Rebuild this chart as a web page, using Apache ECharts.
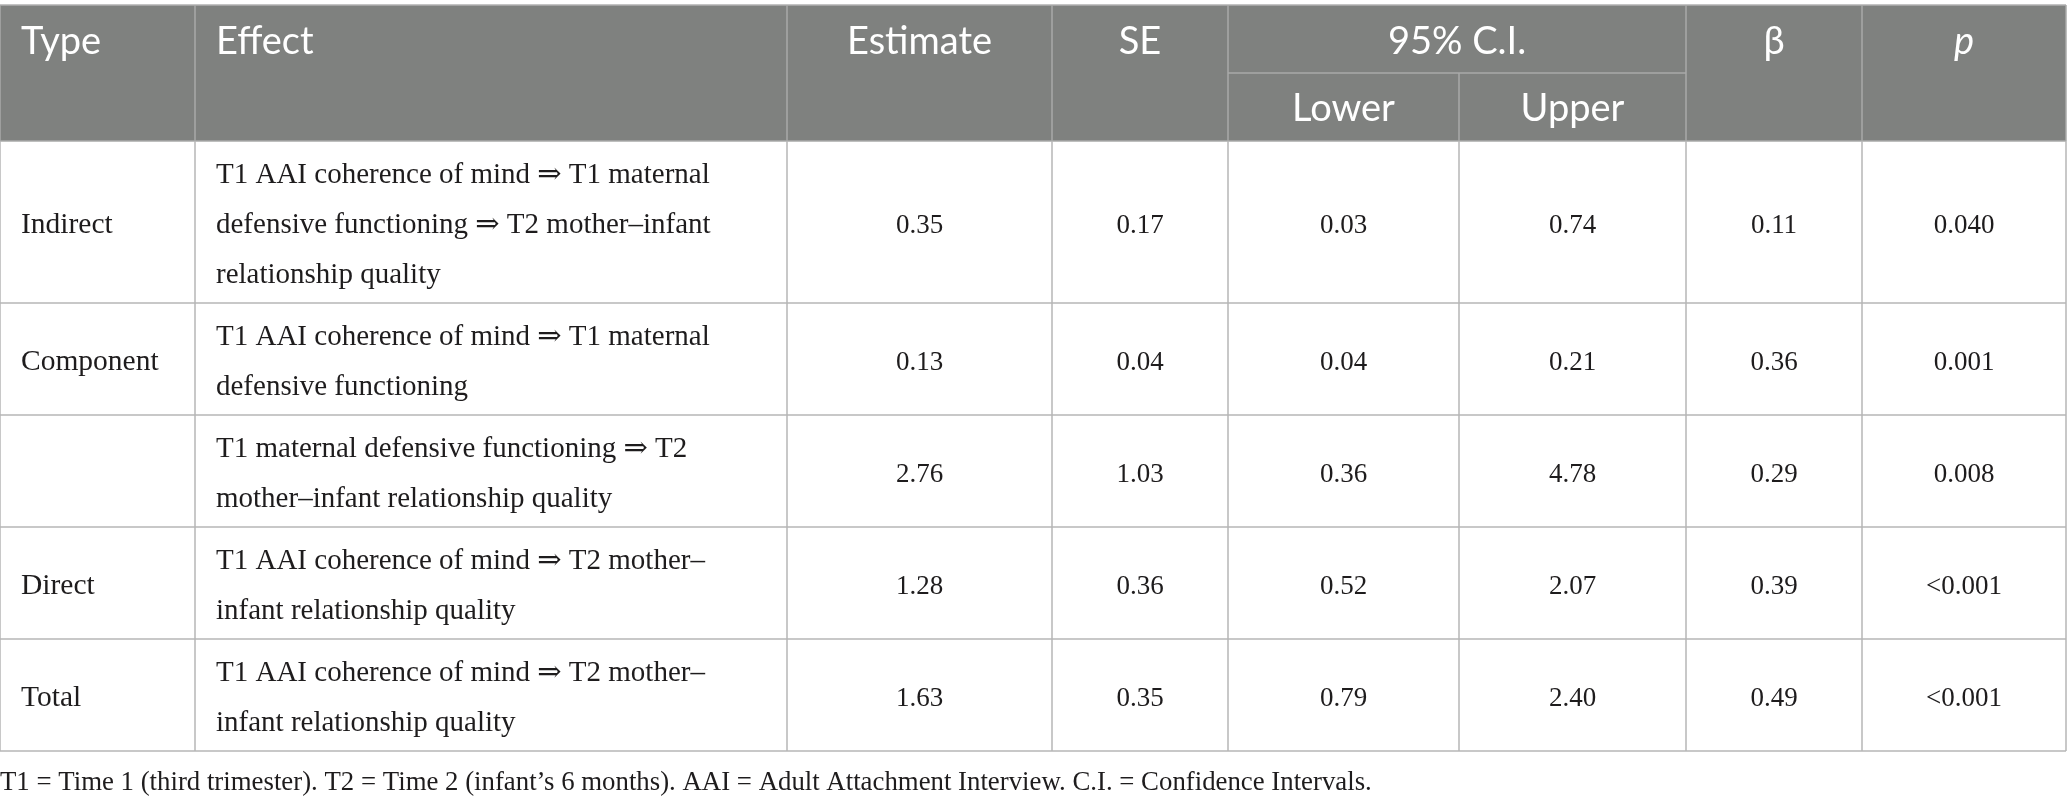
<!DOCTYPE html>
<html>
<head>
<meta charset="utf-8">
<script src="https://cdn.jsdelivr.net/npm/echarts@6/dist/echarts.min.js"></script>
<style>
html,body{margin:0;padding:0;background:#fff;}
#c{width:2067px;height:804px;}
</style>
</head>
<body>
<div id="c"></div>
<script>
// ---- data ----
const headerTop = ['Type', 'Effect', 'Estimate', 'SE', '95% C.I.', 'β', 'p'];
const headerSub = ['Lower', 'Upper'];
const types = ['Indirect', 'Component', '', 'Direct', 'Total'];
const effects = [
  'T1 AAI coherence of mind ⇒ T1 maternal\ndefensive functioning ⇒ T2 mother–infant\nrelationship quality',
  'T1 AAI coherence of mind ⇒ T1 maternal\ndefensive functioning',
  'T1 maternal defensive functioning ⇒ T2\nmother–infant relationship quality',
  'T1 AAI coherence of mind ⇒ T2 mother–\ninfant relationship quality',
  'T1 AAI coherence of mind ⇒ T2 mother–\ninfant relationship quality'
];
const estimates = [0.35, 0.13, 2.76, 1.28, 1.63];
const ses = [0.17, 0.04, 1.03, 0.36, 0.35];
const lowers = [0.03, 0.04, 0.36, 0.52, 0.79];
const uppers = [0.74, 0.21, 4.78, 2.07, 2.40];
const betas = [0.11, 0.36, 0.29, 0.39, 0.49];
const pValues = ['0.040', '0.001', '0.008', '<0.001', '<0.001'];
const footnote = 'T1 = Time 1 (third trimester). T2 = Time 2 (infant’s 6 months). AAI = Adult Attachment Interview. C.I. = Confidence Intervals.';

// ---- layout (in canvas units mapped by value axes) ----
const W = 2067, H = 804;
const colEdges = [0, 195, 787, 1052, 1228, 1459, 1686, 1862, 2066];
const headTop = 5, headMid = 73, headBottom = 141;
const rowEdges = [141, 303, 415, 527, 639, 751];
const footY = 783;
const padX = 21;
const textDy = 3.5;

const SANS = 'Lato, "Open Sans", sans-serif';
const SERIF = '"Liberation Serif", "DejaVu Serif", serif';
const HEAD_FILL = '#7f817f';
const HEAD_LINE = '#a9aaa9';
const BODY_LINE = '#b6b6b6';
const TEXT = '#1e1c1d';

// build cell list
const cells = [];
cells.push({kind: 'rect', x0: 0, y0: headTop, x1: colEdges[8], y1: headBottom, fill: HEAD_FILL});
cells.push({kind: 'line', x0: 0, y0: headTop, x1: colEdges[8], y1: headTop, stroke: '#b0b0b0'});
[0, 1, 2, 3, 4, 6, 7, 8].forEach(i => cells.push({kind: 'line', x0: colEdges[i], y0: headTop, x1: colEdges[i], y1: headBottom, stroke: HEAD_LINE}));
cells.push({kind: 'line', x0: colEdges[4], y0: headMid, x1: colEdges[6], y1: headMid, stroke: HEAD_LINE});
cells.push({kind: 'line', x0: colEdges[5], y0: headMid, x1: colEdges[5], y1: headBottom, stroke: HEAD_LINE});
cells.push({kind: 'line', x0: 0, y0: headBottom, x1: colEdges[8], y1: headBottom, stroke: HEAD_LINE});

// header texts
const headCols = [[0, 1], [1, 2], [2, 3], [3, 4], [4, 6], [6, 7], [7, 8]];
headerTop.forEach((t, i) => {
  const [a, b] = headCols[i];
  const left = i < 2;
  cells.push({kind: 'text', text: t, x: left ? colEdges[a] + padX : (colEdges[a] + colEdges[b]) / 2, y: 42,
    align: left ? 'left' : 'center', font: SANS, size: 38, fill: '#ffffff', italic: t === 'p'});
});
headerSub.forEach((t, i) => {
  cells.push({kind: 'text', text: t, x: (colEdges[4 + i] + colEdges[5 + i]) / 2, y: 109,
    align: 'center', font: SANS, size: 38, fill: '#ffffff'});
});

// body lines
for (let r = 1; r < rowEdges.length; r++) {
  cells.push({kind: 'line', x0: 0, y0: rowEdges[r], x1: colEdges[8], y1: rowEdges[r], stroke: BODY_LINE});
}
colEdges.forEach(x => cells.push({kind: 'line', x0: x, y0: headBottom, x1: x, y1: rowEdges[rowEdges.length - 1], stroke: BODY_LINE}));

// body texts
const numCols = [estimates, ses, lowers, uppers, betas];
types.forEach((t, r) => {
  const yc = (rowEdges[r] + rowEdges[r + 1]) / 2 + textDy;
  if (t) cells.push({kind: 'text', text: t, x: colEdges[0] + padX, y: yc, align: 'left', font: SERIF, size: 29.5, fill: TEXT});
  cells.push({kind: 'text', text: effects[r], x: colEdges[1] + padX, y: yc, align: 'left', font: SERIF, size: 29, fill: TEXT, lh: 50});
  numCols.forEach((arr, k) => {
    cells.push({kind: 'text', text: arr[r].toFixed(2), x: (colEdges[2 + k] + colEdges[3 + k]) / 2, y: yc, align: 'center', font: SERIF, size: 27, fill: TEXT});
  });
  cells.push({kind: 'text', text: pValues[r], x: (colEdges[7] + colEdges[8]) / 2, y: yc, align: 'center', font: SERIF, size: 27, fill: TEXT});
});
cells.push({kind: 'text', text: footnote, x: 0, y: footY, align: 'left', font: SERIF, size: 26.8, fill: TEXT});

function renderItem(params, api) {
  const c = cells[params.dataIndex];
  if (c.kind === 'rect') {
    const p0 = api.coord([c.x0, c.y0]);
    const p1 = api.coord([c.x1, c.y1]);
    return {type: 'rect', shape: {x: p0[0], y: p0[1], width: p1[0] - p0[0], height: p1[1] - p0[1]}, style: {fill: c.fill}};
  }
  if (c.kind === 'line') {
    const p0 = api.coord([c.x0, c.y0]);
    const p1 = api.coord([c.x1, c.y1]);
    return {type: 'line', shape: {x1: p0[0], y1: p0[1], x2: p1[0], y2: p1[1]}, style: {stroke: c.stroke, lineWidth: 1.5}};
  }
  const p = api.coord([c.x, c.y]);
  return {type: 'text', x: p[0], y: p[1], style: {
    text: c.text, fill: c.fill, fontFamily: c.font, fontSize: c.size,
    fontStyle: c.italic ? 'italic' : 'normal', align: c.align, verticalAlign: 'middle',
    lineHeight: c.lh || Math.round(c.size * 1.3)
  }};
}

const chart = echarts.init(document.getElementById('c'), null, {renderer: 'canvas'});
chart.setOption({
  animation: false,
  backgroundColor: '#ffffff',
  grid: {left: 0, right: 0, top: 0, bottom: 0},
  xAxis: {type: 'value', min: 0, max: W, show: false},
  yAxis: {type: 'value', min: 0, max: H, inverse: true, show: false},
  series: [{
    type: 'custom',
    renderItem: renderItem,
    clip: false,
    data: cells.map(c => c.kind === 'text' ? [c.x, c.y] : [c.x0, c.y0, c.x1, c.y1])
  }]
});
</script>
</body>
</html>
